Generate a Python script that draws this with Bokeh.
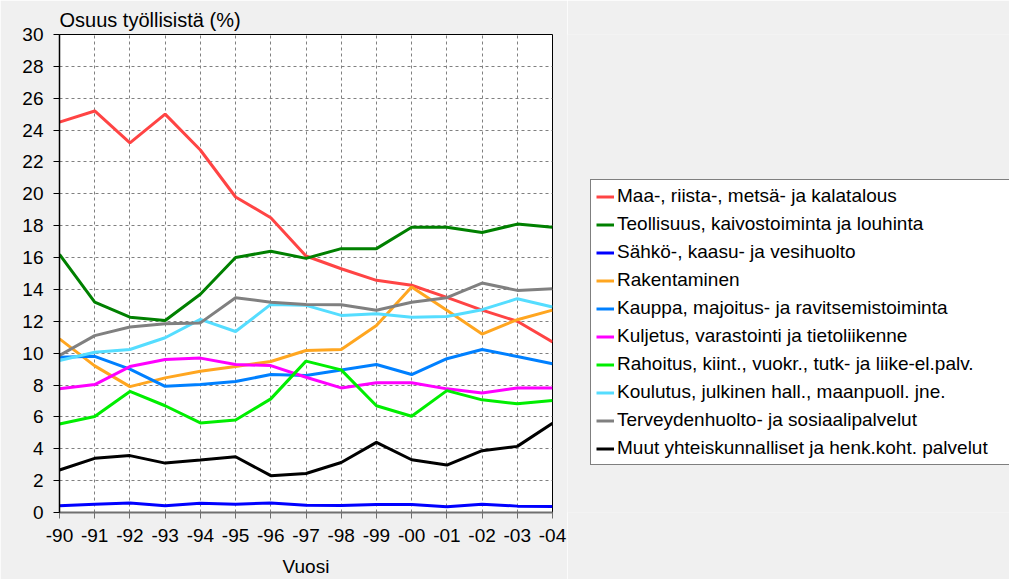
from bokeh.plotting import figure
from bokeh.models import Legend, LegendItem, FixedTicker, Range1d
from bokeh.layouts import row
from bokeh.embed import file_html
from bokeh.resources import INLINE

years = list(range(1990, 2005))
year_labels = ["-90", "-91", "-92", "-93", "-94", "-95", "-96", "-97",
               "-98", "-99", "-00", "-01", "-02", "-03", "-04"]

maa = [24.5, 25.2, 23.2, 25.0, 22.75, 19.8, 18.5, 16.1, 15.3, 14.57, 14.26, 13.5, 12.7, 12.0, 10.7]
teollisuus = [16.2, 13.2, 12.26, 12.05, 13.7, 16.0, 16.4, 15.95, 16.56, 16.56, 17.9, 17.9, 17.57, 18.1, 17.9]
sahko = [0.42, 0.52, 0.6, 0.42, 0.58, 0.52, 0.6, 0.45, 0.44, 0.5, 0.5, 0.36, 0.52, 0.4, 0.38]
rakentaminen = [10.9, 9.2, 7.9, 8.45, 8.87, 9.16, 9.48, 10.17, 10.23, 11.74, 14.15, 12.7, 11.2, 12.1, 12.7]
kauppa = [9.75, 9.8, 9.0, 7.92, 8.03, 8.22, 8.66, 8.6, 8.95, 9.29, 8.66, 9.65, 10.23, 9.79, 9.33]
kuljetus = [7.76, 8.03, 9.16, 9.6, 9.69, 9.29, 9.22, 8.49, 7.82, 8.14, 8.14, 7.76, 7.5, 7.82, 7.82]
rahoitus = [5.56, 6.02, 7.6, 6.7, 5.62, 5.81, 7.13, 9.5, 8.95, 6.7, 6.04, 7.65, 7.07, 6.82, 7.03]
koulutus = [9.54, 10.06, 10.23, 10.97, 12.12, 11.36, 13.06, 13.0, 12.37, 12.48, 12.26, 12.3, 12.73, 13.42, 12.9]
terveys = [9.85, 11.1, 11.64, 11.85, 11.9, 13.48, 13.2, 13.06, 13.04, 12.69, 13.2, 13.48, 14.4, 13.94, 14.05]
muut = [2.67, 3.4, 3.57, 3.1, 3.29, 3.5, 2.31, 2.45, 3.14, 4.4, 3.31, 2.98, 3.88, 4.15, 5.6]

series_names = [
    "Maa-, riista-, metsä- ja kalatalous",
    "Teollisuus, kaivostoiminta ja louhinta",
    "Sähkö-, kaasu- ja vesihuolto",
    "Rakentaminen",
    "Kauppa, majoitus- ja ravitsemistoiminta",
    "Kuljetus, varastointi ja tietoliikenne",
    "Rahoitus, kiint., vuokr., tutk- ja liike-el.palv.",
    "Koulutus, julkinen hall., maanpuoll. jne.",
    "Terveydenhuolto- ja sosiaalipalvelut",
    "Muut yhteiskunnalliset ja henk.koht. palvelut",
]
series_values = [maa, teollisuus, sahko, rakentaminen, kauppa, kuljetus,
                 rahoitus, koulutus, terveys, muut]
colors = ["#ff4444", "#008000", "#0000ff", "#ffa620", "#0080ff", "#ff00ff",
          "#00ee00", "#55ddff", "#808080", "#000000"]

y_ticks = list(range(0, 31, 2))

FONT = "Liberation Sans"
BG = "#f0f0f0"

p = figure(width=567, height=579, output_backend="svg", toolbar_location=None,
           x_range=Range1d(1990, 2004), y_range=Range1d(0, 30),
           min_border_left=59, min_border_right=15, min_border_top=34,
           min_border_bottom=67)
p.border_fill_color = BG
p.background_fill_color = "#ffffff"
p.outline_line_color = "#000000"
p.outline_line_width = 1

p.title.text = "Osuus työllisistä (%)"
p.title.text_font = FONT
p.title.text_font_size = "20px"
p.title.text_font_style = "normal"
p.title.text_color = "#000000"
p.title.align = "left"
p.title.standoff = 7

for name, vals, col in zip(series_names, series_values, colors):
    p.line(years, vals, line_color=col, line_width=3)

p.xaxis.ticker = FixedTicker(ticks=years)
p.xaxis.major_label_overrides = {y: l for y, l in zip(years, year_labels)}
p.yaxis.ticker = FixedTicker(ticks=y_ticks)

for ax in (p.xaxis[0], p.yaxis[0]):
    ax.major_label_text_font = FONT
    ax.major_label_text_font_size = "19px"
    ax.major_label_text_color = "#000000"
    ax.major_tick_out = 6
    ax.major_tick_in = 0
    ax.minor_tick_out = 0
    ax.minor_tick_in = 0
    ax.major_tick_line_color = "#000000"

p.yaxis.axis_line_color = "#000000"
p.yaxis.axis_line_width = 1.5
p.yaxis.major_label_standoff = 10
p.xaxis.axis_line_color = "#707070"
p.xaxis.axis_line_width = 2
p.xaxis.major_tick_line_color = "#707070"
p.xaxis.major_label_standoff = 10
p.xaxis.axis_label = "Vuosi"
p.xaxis.axis_label_text_font = FONT
p.xaxis.axis_label_text_font_size = "19px"
p.xaxis.axis_label_text_font_style = "normal"
p.xaxis.axis_label_text_color = "#000000"
p.xaxis.axis_label_standoff = 11

p.xgrid.ticker = FixedTicker(ticks=years)
p.ygrid.ticker = FixedTicker(ticks=y_ticks)
for g in (p.xgrid[0], p.ygrid[0]):
    g.grid_line_color = "#808080"
    g.grid_line_dash = "3 3"
    g.grid_line_width = 1

# Legend panel: a second figure whose frame holds the legend; its lines carry
# the same data but lie outside its visible ranges.
q = figure(width=442, height=579, output_backend="svg", toolbar_location=None,
           x_range=Range1d(0, 1), y_range=Range1d(100, 101),
           x_axis_location=None, y_axis_location=None,
           min_border_left=0, min_border_right=0, min_border_top=0,
           min_border_bottom=0)
q.border_fill_color = BG
q.background_fill_color = BG
q.outline_line_color = None
q.xgrid.visible = False
q.ygrid.visible = False

items = []
for name, vals, col in zip(series_names, series_values, colors):
    r = q.line(years, vals, line_color=col, line_width=3)
    items.append(LegendItem(label=name, renderers=[r]))

legend = Legend(items=items, location=(23, 47))
legend.label_text_font = FONT
legend.label_text_font_size = "19px"
legend.label_text_color = "#000000"
legend.label_height = 21
legend.glyph_height = 21
legend.glyph_width = 18
legend.label_standoff = 3
legend.spacing = 6
legend.padding = 5
legend.margin = 0
legend.label_width = 389
legend.border_line_color = "#000000"
legend.border_line_width = 1
legend.background_fill_color = "#ffffff"
legend.background_fill_alpha = 1.0
q.add_layout(legend, "center")

layout = row(p, q)
open("out.html", "w").write(file_html(layout, INLINE))
